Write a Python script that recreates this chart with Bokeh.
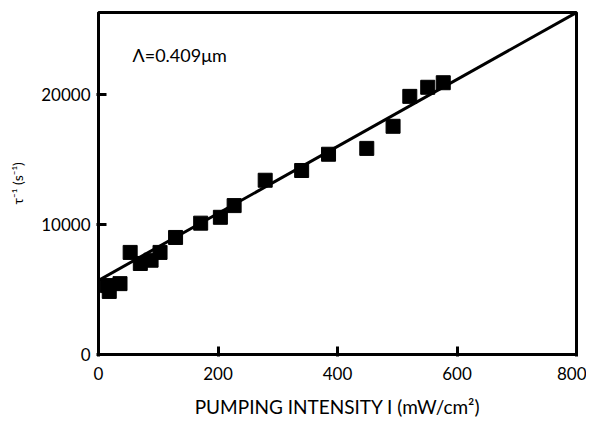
from bokeh.plotting import figure
from bokeh.models import Range1d, FixedTicker, Label
from bokeh.embed import file_html
from bokeh.resources import INLINE

# Data
intensity = [15, 18, 36, 53, 70, 88, 103, 129, 171, 204, 227, 279, 340, 385, 449, 493, 521, 551, 577]
rate = [5300, 4850, 5450, 7850, 7000, 7250, 7850, 9000, 10100, 10550, 11450, 13400, 14150, 15400, 15850, 17550, 19850, 20550, 20900]
fit_x = [0, 800]
fit_y = [5700, 26300]
x_ticks = [0, 200, 400, 600, 800]
y_ticks = [0, 10000, 20000]

FONT = "Lato"

p = figure(
    frame_width=478, frame_height=342,
    x_range=Range1d(0, 800), y_range=Range1d(0, 26300),
    output_backend="svg", toolbar_location=None,
    min_border_left=98, min_border_top=12, min_border_right=10, min_border_bottom=60,
)
p.grid.visible = False
p.outline_line_color = "black"
p.outline_line_width = 3

p.line(fit_x, fit_y, line_color="black", line_width=3)
p.scatter(intensity, rate, marker="square", size=14, fill_color="black", line_color="black")

for ax in (p.xaxis[0], p.yaxis[0]):
    ax.axis_line_width = 3
    ax.major_tick_line_width = 3
    ax.major_tick_in = 8
    ax.major_tick_out = 2
    ax.minor_tick_line_color = None
    ax.major_label_text_font = FONT
    ax.major_label_text_font_size = "17px"
    ax.major_label_text_color = "black"
    ax.axis_label_text_font = FONT
    ax.axis_label_text_font_style = "normal"
    ax.axis_label_text_color = "black"

p.xaxis.ticker = FixedTicker(ticks=x_ticks)
p.yaxis.ticker = FixedTicker(ticks=y_ticks)
p.xaxis.major_label_standoff = 10
p.yaxis.major_label_standoff = 6
p.xaxis.axis_label = "PUMPING INTENSITY I (mW/cm²)"
p.xaxis.axis_label_text_font_size = "19px"
p.xaxis.axis_label_standoff = 12
p.yaxis.axis_label = "τ⁻¹ (s⁻¹)"
p.yaxis.axis_label_text_font_size = "14px"
p.yaxis.axis_label_standoff = 12

p.add_layout(Label(x=57, y=23000, text="Λ=0.409μm", text_font=FONT,
                   text_font_size="18px", text_baseline="middle", text_align="left",
                   text_color="black"))

open("out.html", "w").write(file_html(p, INLINE))
